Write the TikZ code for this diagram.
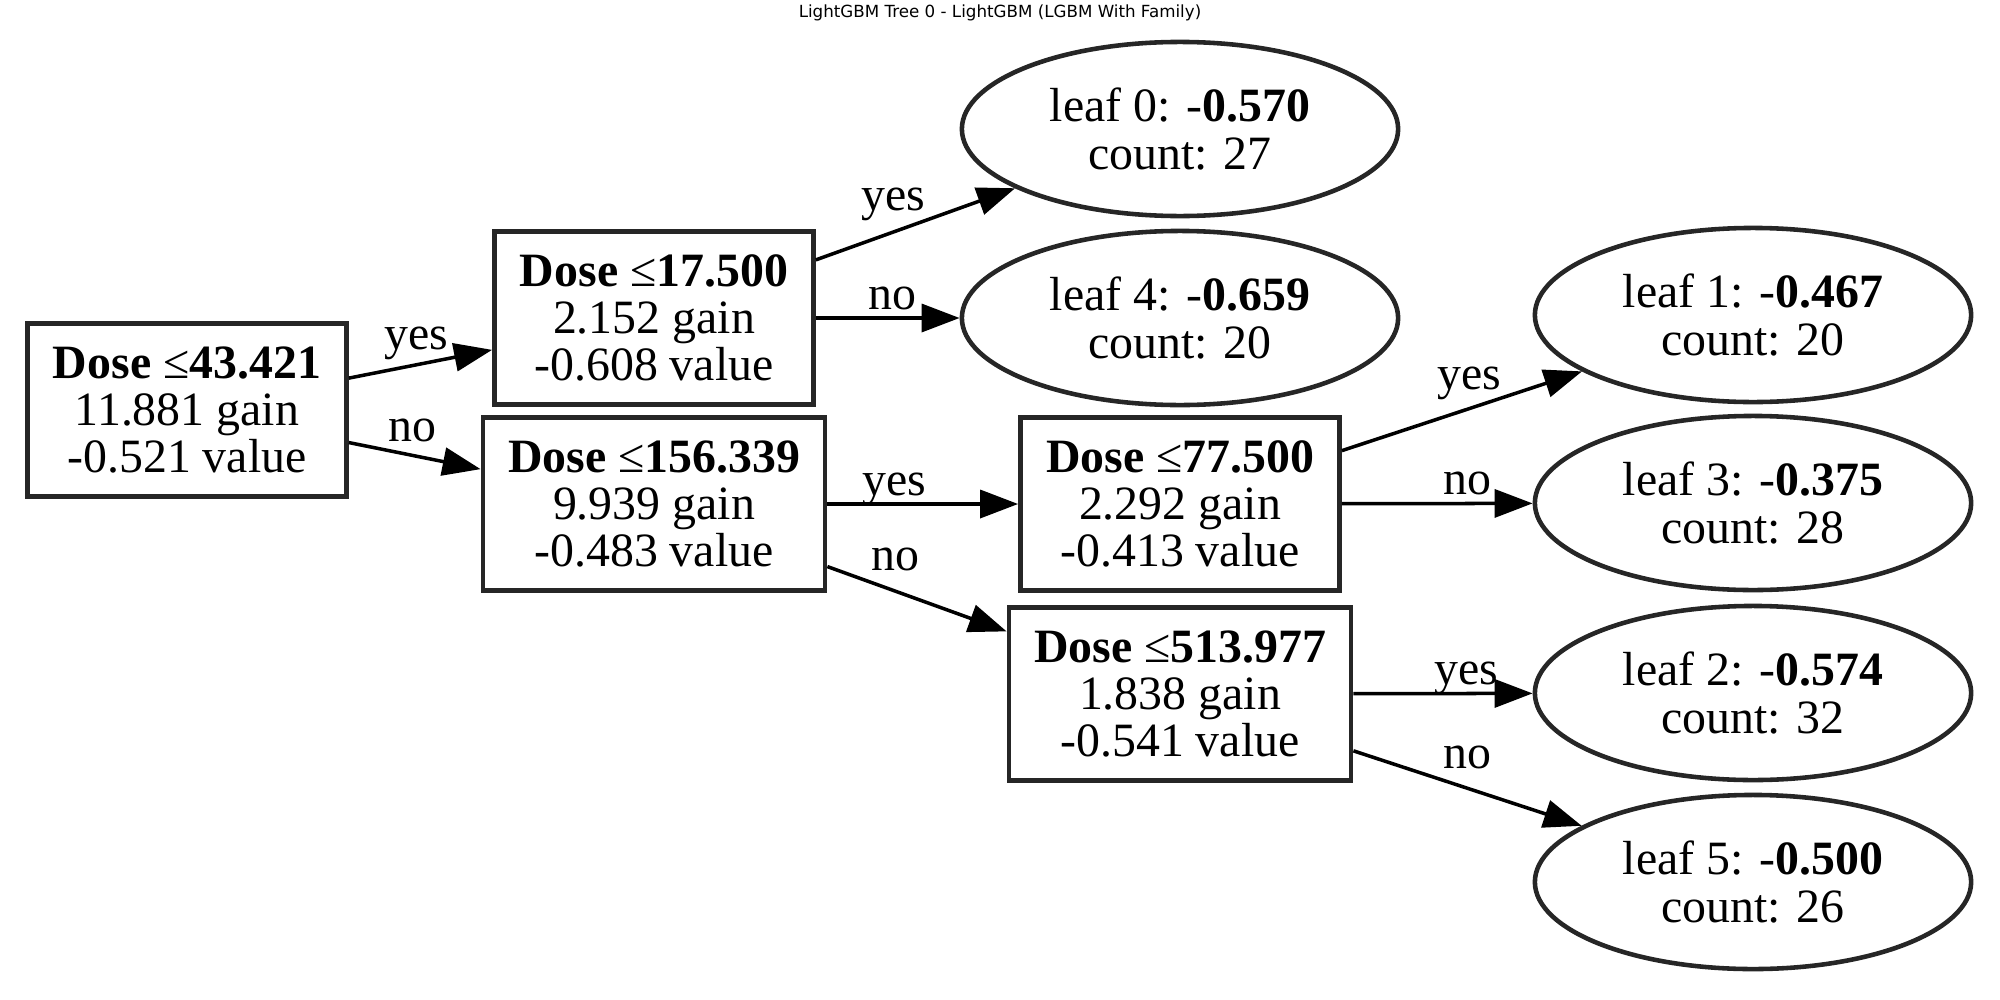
\documentclass[tikz,border=0pt]{standalone}
\usepackage{fontspec}
\setmainfont{Liberation Serif}
\newfontfamily\titlefont{DejaVu Sans}
\usetikzlibrary{arrows.meta,shapes.geometric}

\tikzset{
  treefont/.style={font=\fontsize{13.6}{13.4}\selectfont},
  split/.style={treefont, rectangle, draw=black!85, line width=1.3pt, minimum height=1.73cm, inner sep=2pt, align=center},
  leaf/.style={treefont, ellipse, draw=black!85, line width=1.3pt, minimum width=4.36cm, minimum height=1.74cm, inner sep=0pt, align=center},
  branch/.style={line width=1pt, -{Triangle[length=0.38cm, width=0.28cm]}},
  tag/.style={treefont, above=1pt, inner sep=1pt, text depth=0pt},
  slopetag/.style={tag, above=#1},
  slopetag/.default=3pt
}

\begin{document}
\begin{tikzpicture}[x=0.01cm, y=-0.01cm]

  % Canvas
  \useasboundingbox (0, 0) rectangle (2000, 1000);
  \node[font=\titlefont\fontsize{4.75}{5.5}\selectfont] (title) at (1000, 13) {LightGBM Tree 0 - LightGBM (LGBM With Family)};

  % ==================== 1. SPLIT NODES ====================
  \node[split, minimum width=3.19cm] (root) at (187, 410) {\textbf{Dose }≤\textbf{43.421}\\11.881 gain\\-0.521 value};
  \node[split, minimum width=3.19cm] (s17) at (654, 318) {\textbf{Dose }≤\textbf{17.500}\\2.152 gain\\-0.608 value};
  \node[split, minimum width=3.42cm] (s156) at (654, 504) {\textbf{Dose }≤\textbf{156.339}\\9.939 gain\\-0.483 value};
  \node[split, minimum width=3.19cm] (s77) at (1180, 504) {\textbf{Dose }≤\textbf{77.500}\\2.292 gain\\-0.413 value};
  \node[split, minimum width=3.42cm] (s513) at (1180, 694) {\textbf{Dose }≤\textbf{513.977}\\1.838 gain\\-0.541 value};

  % ==================== 2. LEAVES ====================
  \node[leaf] (leaf0) at (1180, 129) {leaf 0: -\textbf{0.570}\\count: 27};
  \node[leaf] (leaf4) at (1180, 318) {leaf 4: -\textbf{0.659}\\count: 20};
  \node[leaf] (leaf1) at (1753, 315) {leaf 1: -\textbf{0.467}\\count: 20};
  \node[leaf] (leaf3) at (1753, 503) {leaf 3: -\textbf{0.375}\\count: 28};
  \node[leaf] (leaf2) at (1753, 693) {leaf 2: -\textbf{0.574}\\count: 32};
  \node[leaf] (leaf5) at (1753, 882) {leaf 5: -\textbf{0.500}\\count: 26};

  % ==================== 3. BRANCHES ====================
  \draw[branch] (root) -- node[slopetag=2pt, pos=0.47] {yes} (s17);
  \draw[branch] (root) -- node[slopetag=1.5pt, pos=0.48] {no} (s156);
  \draw[branch] (s17) -- node[slopetag=3.5pt, pos=0.39] {yes} (leaf0);
  \draw[branch] (s17) -- node[tag, pos=0.53] {no} (leaf4);
  \draw[branch] (s156) -- node[tag, pos=0.35] {yes} (s77);
  \draw[branch] (s156) -- node[slopetag=3.5pt, pos=0.38] {no} (s513);
  \draw[branch] (s77) -- node[slopetag, pos=0.53] {yes} (leaf1);
  \draw[branch] (s77) -- node[tag, pos=0.66] {no} (leaf3);
  \draw[branch] (s513) -- node[tag, pos=0.63] {yes} (leaf2);
  \draw[branch] (s513) -- node[slopetag, pos=0.50] {no} (leaf5);

\end{tikzpicture}
\end{document}
